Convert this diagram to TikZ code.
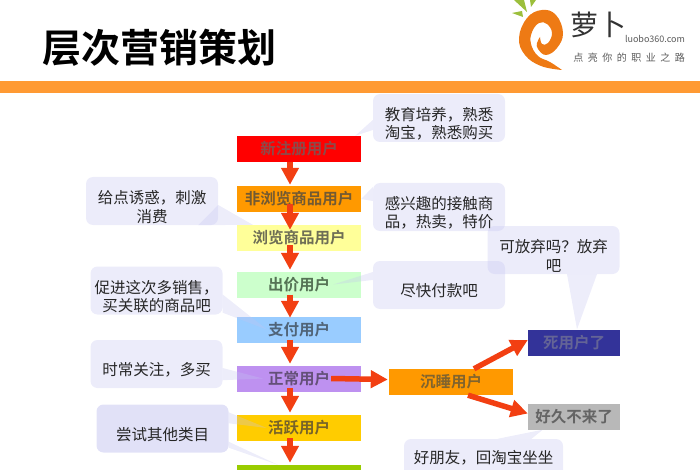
\documentclass[tikz,border=0pt]{standalone}
\usepackage{fontspec}
\usepackage{xcolor}
\setmainfont{Noto Sans CJK SC}
\newfontfamily\titlefont{Noto Sans CJK SC Bold}
\newfontfamily\spacedfont[LetterSpace=45]{Noto Sans CJK SC}
\usetikzlibrary{calc, arrows.meta}

\definecolor{bandorange}{HTML}{FF9A33}
\definecolor{logoorange}{HTML}{EE7A14}
\definecolor{leafgreen}{HTML}{9CBF3C}
\definecolor{arrowred}{HTML}{F23F12}
\definecolor{bubblefill}{HTML}{C4C4F0}

\tikzset{
	userbox/.style = {minimum width = 124pt, minimum height = 26pt, inner sep = 0pt, font = \titlefont\fontsize{15.5}{17}\selectfont},
	smallbox/.style = {userbox, minimum width = 92pt},
	callout/.style = {fill = bubblefill, fill opacity = 0.32, rounded corners = 7pt, minimum width = 132pt, minimum height = 48pt, inner sep = 0pt},
	calloutlabel/.style = {yshift = -6pt, align = center, text = black!85, inner sep = 0pt, font = \fontsize{15.5}{18.5}\selectfont},
	callouttail/.style = {fill = bubblefill, fill opacity = 0.3},
	flow/.style = {-{Triangle[length = 17pt, width = 17pt]}, line width = 5.5pt, arrowred}
}

\begin{document}
\begin{tikzpicture}[x = 1pt, y = -1pt]
			\def\midx{299};
			\def\flowx{-9pt};
			
			\useasboundingbox (0,0) rectangle (700,470);
			\clip (0,0) rectangle (700,470);
			
			\fill[bandorange] (0,81) rectangle (700,93);
			\node[font = \titlefont\fontsize{39}{41}\selectfont, inner sep = 0pt] (title) at (159,48) {层次营销策划};
			
			% logo
			\fill[logoorange]
				plot[smooth, tension = 0.7] coordinates {(562,70) (541,66) (525,55) (519,38) (527,18) (542,10) (556,15) (563,33) (557,48) (546,55) (538,49) (537,43) (540,37)}
				-- plot[smooth, tension = 0.7] coordinates {(540,37) (542,44) (548,43) (552,33) (547,24) (539,23) (532,32) (531,44) (538,56) (550,62) (562,70)}
				-- cycle;
			\fill[leafgreen] (512,13) -- (522,11) -- (523,17) -- cycle;
			\fill[leafgreen] (514,0) -- (524,0) -- (527,12) -- cycle;
			\fill[leafgreen] (530,0) -- (536,0) -- (531,7) -- cycle;
			\node[font = \fontsize{28}{30}\selectfont, text = black!80, inner sep = 0pt] (logoname) at (598,25) {萝卜};
			\node[font = \fontsize{9}{11}\selectfont, text = black!65, inner sep = 0pt] (logourl) at (655,39) {luobo360.com};
			\node[font = \spacedfont\fontsize{10}{12}\selectfont, text = black!65, inner sep = 0pt] (logoslogan) at (629,58) {点亮你的职业之路};
			
			% user boxes
			\node[userbox, fill = {rgb,255:red,255;green,0;blue,0}, text = {rgb,255:red,140;green,75;blue,75}] (newuser) at (\midx,149) {新注册用户};
			\node[userbox, fill = {rgb,255:red,255;green,153;blue,0}, text = {rgb,255:red,115;green,90;blue,50}] (nonbrowse) at (\midx,199) {非浏览商品用户};
			\node[userbox, fill = {rgb,255:red,255;green,255;blue,153}, text = {rgb,255:red,110;green,110;blue,85}] (browse) at (\midx,238) {浏览商品用户};
			\node[userbox, fill = {rgb,255:red,204;green,255;blue,204}, text = {rgb,255:red,85;green,115;blue,85}] (bid) at (\midx,284.5) {出价用户};
			\node[userbox, fill = {rgb,255:red,153;green,204;blue,255}, text = {rgb,255:red,80;green,100;blue,120}] (pay) at (\midx,329.5) {支付用户};
			\node[userbox, fill = {rgb,255:red,190;green,145;blue,240}, text = {rgb,255:red,100;green,80;blue,120}] (normal) at (\midx,378.5) {正常用户};
			\node[userbox, fill = {rgb,255:red,255;green,204;blue,0}, text = {rgb,255:red,120;green,100;blue,40}] (active) at (\midx,428) {活跃用户};
			\node[userbox, fill = {rgb,255:red,153;green,204;blue,0}] (loyal) at (\midx,478) {};
			\node[userbox, fill = {rgb,255:red,255;green,153;blue,0}, text = {rgb,255:red,130;green,100;blue,45}] (sleep) at (451,382) {沉睡用户};
			\node[smallbox, fill = {rgb,255:red,51;green,51;blue,153}, text = {rgb,255:red,100;green,100;blue,150}] (dead) at (574,342.5) {死用户了};
			\node[smallbox, fill = {rgb,255:red,184;green,184;blue,184}, text = {rgb,255:red,100;green,100;blue,100}] (gone) at (574,416.5) {好久不来了};
			
			% arrows
			\begin{scope}[flow]
				\draw ([xshift = \flowx]newuser.south) -- ([xshift = \flowx, yshift = 1pt]nonbrowse.north);
				\draw ([xshift = \flowx, yshift = 8pt]nonbrowse.south) -- ([xshift = \flowx, yshift = -5pt]browse.north);
				\draw ([xshift = \flowx, yshift = 6pt]browse.south) -- ([xshift = \flowx, yshift = 1.5pt]bid.north);
				\draw ([xshift = \flowx, yshift = 3pt]bid.south) -- ([xshift = \flowx, yshift = -1.5pt]pay.north);
				\draw ([xshift = \flowx, yshift = 3pt]pay.south) -- ([xshift = \flowx, yshift = 1.5pt]normal.north);
				\draw ([xshift = \flowx, yshift = 3.5pt]normal.south) -- ([xshift = \flowx, yshift = 2pt]active.north);
				\draw ([xshift = \flowx, yshift = 3pt]active.south) -- ([xshift = \flowx, yshift = 2pt]loyal.north);
				\draw ([xshift = -30pt]normal.east) -- ([xshift = -1pt, yshift = 2.5pt]sleep.west);
				\draw ([xshift = 23pt]sleep.north) -- ([yshift = 2.5pt]dead.west);
				\draw ([xshift = 17pt]sleep.south) -- ([yshift = 3pt]gone.west);
			\end{scope}
			
			% callouts
			\node[callout, label = {[calloutlabel]center:教育培养，熟悉\\淘宝，熟悉购买}] (learn) at (439,118) {};
			\node[callout, label = {[calloutlabel]center:感兴趣的接触商\\品，热卖，特价}] (hot) at (439,207) {};
			\node[callout, label = {[calloutlabel]center:给点诱惑，刺激\\消费}] (tempt) at (152,201) {};
			\node[callout, label = {[calloutlabel]center:可放弃吗？放弃\\吧}] (giveup) at (553.5,250) {};
			\node[callout, label = {[calloutlabel]center:尽快付款吧}] (hurry) at (439,285) {};
			\node[callout, label = {[calloutlabel]center:促进这次多销售，\\买关联的商品吧}] (promote) at (156.5,290.5) {};
			\node[callout, label = {[calloutlabel]center:时常关注，多买}] (follow) at (156.5,364) {};
			\node[callout, fill opacity = 0.5, label = {[calloutlabel]center:尝试其他类目}] (other) at (162.5,428.5) {};
			\node[callout, minimum width = 159pt, minimum height = 38pt, label = {[calloutlabel, yshift = 6pt]center:好朋友，回淘宝坐坐}] (friend) at (483.5,458) {};
			
			% callout tails
			\fill[callouttail] ([yshift = -2pt]learn.west) -- ([yshift = -12pt]learn.west) -- ([xshift = -6pt]newuser.north east) -- cycle;
			\fill[callouttail] ([yshift = 20pt]hot.west) -- ([yshift = 6pt]hot.west) -- (nonbrowse.east) -- cycle;
			\fill[callouttail] ([yshift = -4pt]tempt.east) -- ([xshift = -20pt]tempt.south east) -- ([xshift = 16pt]browse.north west) -- cycle;
			\fill[callouttail] ([yshift = 13pt]hurry.west) -- ([yshift = 5pt]hurry.west) -- ([xshift = -28pt]bid.east) -- cycle;
			\fill[callouttail] ([yshift = -4pt]promote.east) -- ([yshift = 2pt]promote.south east) -- ([xshift = 30pt]pay.west) -- cycle;
			\fill[callouttail] ([yshift = -4pt]follow.east) -- ([yshift = 8pt]follow.south east) -- ([xshift = 26pt]normal.west) -- cycle;
			\fill[callouttail] ([yshift = -8pt]other.north east) -- ([yshift = -19pt]other.north east) -- ([xshift = 30pt]active.west) -- cycle;
			\fill[callouttail] ([yshift = 11pt]other.south east) -- ([yshift = 5pt]other.south east) -- ([xshift = 41pt]loyal.north west) -- cycle;
			\fill[callouttail] ([xshift = 13.5pt]giveup.south) -- ([xshift = 43.5pt]giveup.south) -- ([xshift = 3pt]dead.north) -- cycle;
			\fill[callouttail] ([xshift = 14pt]friend.north) -- ([xshift = 48pt]friend.north) -- ([xshift = 15pt]gone.south west) -- cycle;
		\end{tikzpicture}
\end{document}
